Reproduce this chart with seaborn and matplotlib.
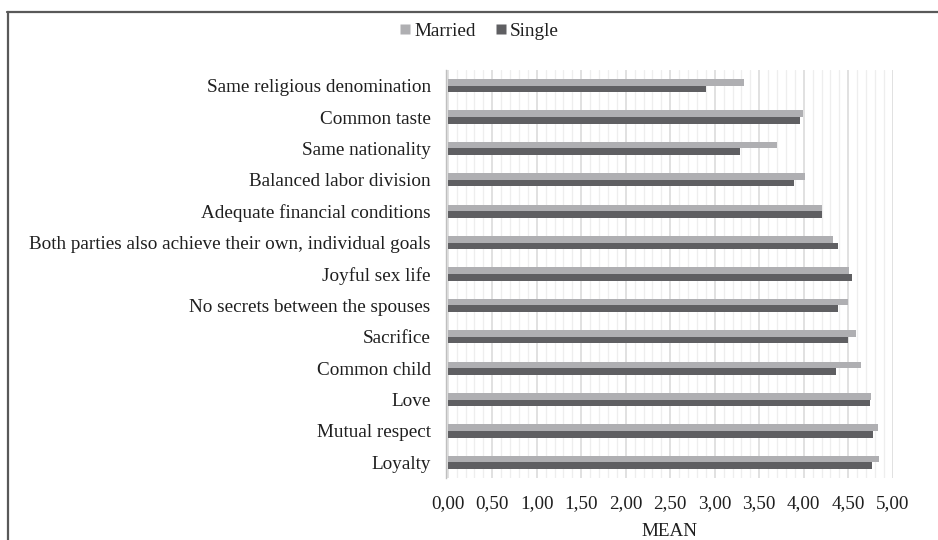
import matplotlib
matplotlib.use("Agg")
import matplotlib.pyplot as plt
from matplotlib.lines import Line2D
from matplotlib.ticker import MultipleLocator, FuncFormatter
import seaborn as sns
import pandas as pd

categories = [
    "Same religious denomination",
    "Common taste",
    "Same nationality",
    "Balanced labor division",
    "Adequate financial conditions",
    "Both parties also achieve their own, individual goals",
    "Joyful sex life",
    "No secrets between the spouses",
    "Sacrifice",
    "Common child",
    "Love",
    "Mutual respect",
    "Loyalty",
]
married = [3.33, 3.99, 3.70, 4.02, 4.20, 4.33, 4.51, 4.50, 4.59, 4.64, 4.76, 4.84, 4.85]
single = [2.90, 3.96, 3.28, 3.89, 4.21, 4.39, 4.54, 4.39, 4.50, 4.36, 4.75, 4.78, 4.77]
groups = ["Married", "Single"]
colors = {"Married": "#afafb2", "Single": "#5f5f62"}

df = pd.DataFrame({
    "item": categories * 2,
    "group": ["Married"] * len(categories) + ["Single"] * len(categories),
    "mean": married + single,
})

sns.set_theme(style="white")
plt.rcParams["font.family"] = ["Liberation Serif", "DejaVu Serif"]
text_color = "#1f1f1f"
fs = 13.8

fig = plt.figure(figsize=(9.38, 5.40), dpi=100)
W, H = 938, 540
ax = fig.add_axes([446 / W, 1 - 478 / H, (892.7 - 446) / W, (478 - 70) / H])

sns.barplot(data=df, y="item", x="mean", hue="group", order=categories,
            hue_order=groups, palette=colors, orient="h", width=0.42,
            saturation=1, legend=False, ax=ax, edgecolor="none")

ax.set_xlim(-0.02, 5.0)
ax.set_ylim(len(categories) - 0.5, -0.5)

# vertical grid: major every 0.5, minor every 0.1
ax.xaxis.set_major_locator(MultipleLocator(0.5))
ax.xaxis.set_minor_locator(MultipleLocator(0.1))
ax.set_axisbelow(True)
ax.grid(axis="x", which="major", color="#d9d9d9", linewidth=1.1)
ax.grid(axis="x", which="minor", color="#eeeeee", linewidth=0.9)
ax.grid(axis="y", which="both", visible=False)

ax.xaxis.set_major_formatter(FuncFormatter(lambda v, p: f"{v:.2f}".replace(".", ",")))
ax.tick_params(axis="x", which="both", length=0, pad=12, labelsize=fs, labelcolor=text_color)

# category boundaries marked with short ticks on the y axis
ax.set_yticks([i + 0.5 for i in range(-1, len(categories))], minor=True)
ax.tick_params(axis="y", which="minor", length=5, width=1, color="#bfbfbf")
ax.tick_params(axis="y", which="major", length=0, pad=11, labelsize=fs, labelcolor=text_color)

for side in ["top", "right", "bottom"]:
    ax.spines[side].set_visible(False)
ax.spines["left"].set_color("#bfbfbf")
ax.spines["left"].set_linewidth(1)

ax.set_ylabel("")
ax.set_xlabel("MEAN", fontsize=fs, color=text_color, labelpad=8)

handles = [Line2D([], [], marker="s", linestyle="none", markersize=6.5,
                  markerfacecolor=colors[g], markeredgecolor="none") for g in groups]
fig.legend(handles, groups, loc="center", bbox_to_anchor=(476 / W, 1 - 31 / H),
           ncol=2, frameon=False, fontsize=fs, handletextpad=-0.1,
           handlelength=1.2, columnspacing=0.7, labelcolor=text_color)

# outer frame lines (top and left)
fig.add_artist(Line2D([7 / W, 1], [1 - 12 / H, 1 - 12 / H], color="#595959", linewidth=1.6))
fig.add_artist(Line2D([7.5 / W, 7.5 / W], [0, 1 - 12 / H], color="#595959", linewidth=1.6))

fig.savefig("out.png", dpi=100)
